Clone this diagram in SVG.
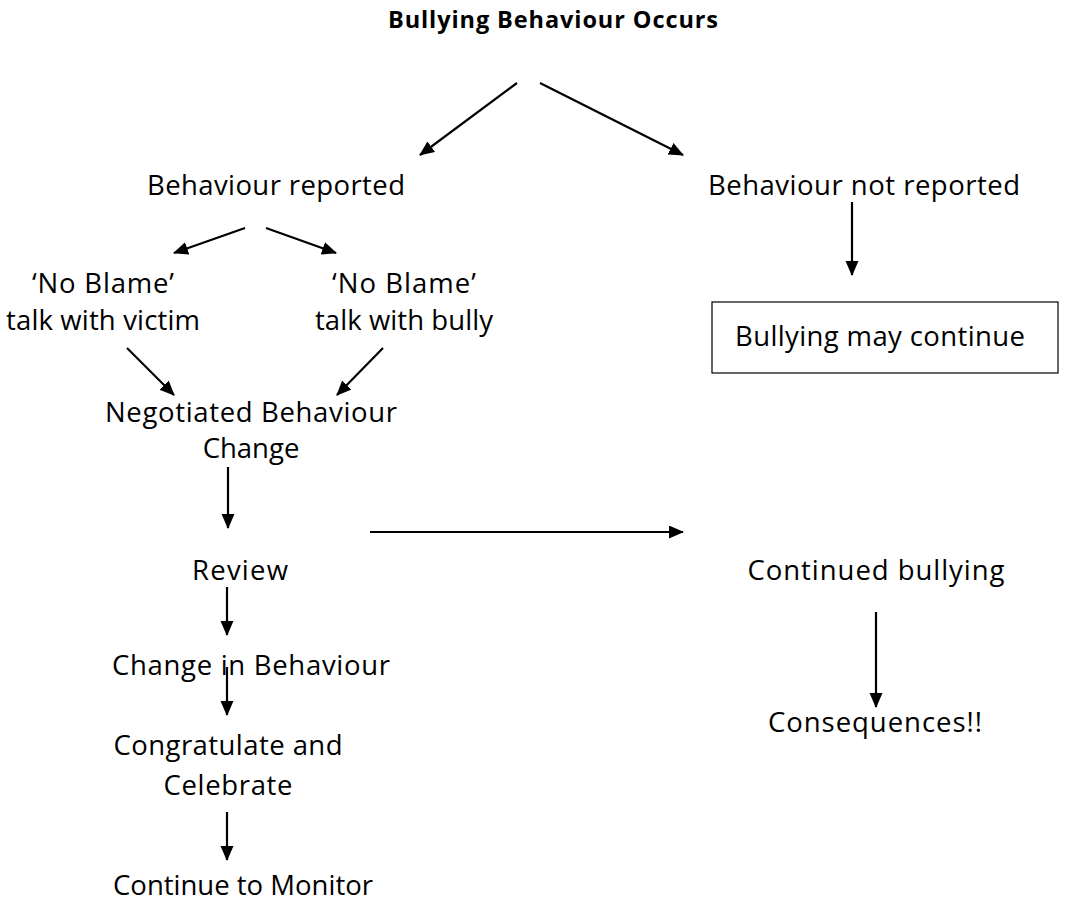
<svg xmlns="http://www.w3.org/2000/svg" width="1070" height="907" viewBox="0 0 1070 907">
<style>
text{font-family:"Open Sans","Lato","DejaVu Sans",sans-serif;fill:#000;text-anchor:middle;font-size:27.5px}
.title{font-weight:bold;font-size:23.5px}
.c line{stroke:#000;stroke-width:2.2;marker-end:url(#ah)}
.box{fill:#fff;stroke:#000;stroke-width:1.2}
</style>
<defs>
<marker id="ah" markerUnits="userSpaceOnUse" markerWidth="16" markerHeight="14" refX="14" refY="6.5" orient="auto">
<path d="M0,0 L15,6.5 L0,13 Z" fill="#000"/>
</marker>
</defs>
<rect width="1070" height="907" fill="#fff"/>
<g id="title"><text class="title" x="553" y="28" textLength="330" lengthAdjust="spacing">Bullying Behaviour Occurs</text></g>
<g id="reported"><text x="276" y="195" textLength="258" lengthAdjust="spacing">Behaviour reported</text></g>
<g id="notreported"><text x="864" y="195" textLength="312" lengthAdjust="spacing">Behaviour not reported</text></g>
<g id="maycontinue"><rect class="box" x="712" y="302" width="346" height="71"/><text x="880" y="346" textLength="290" lengthAdjust="spacing">Bullying may continue</text></g>
<g id="victim"><text x="103" y="293" textLength="142" lengthAdjust="spacing">‘No Blame’</text><text x="103" y="330" textLength="194" lengthAdjust="spacing">talk with victim</text></g>
<g id="bully"><text x="404" y="293" textLength="144" lengthAdjust="spacing">‘No Blame’</text><text x="404" y="330" textLength="178" lengthAdjust="spacing">talk with bully</text></g>
<g id="negotiated"><text x="251" y="422" textLength="292" lengthAdjust="spacing">Negotiated Behaviour</text><text x="251" y="458">Change</text></g>
<g id="review"><text x="240" y="580" textLength="96" lengthAdjust="spacing">Review</text></g>
<g id="change"><text x="251" y="675" textLength="278" lengthAdjust="spacing">Change in Behaviour</text></g>
<g id="congratulate"><text x="228" y="755" textLength="229" lengthAdjust="spacing">Congratulate and</text><text x="228" y="795" textLength="129" lengthAdjust="spacing">Celebrate</text></g>
<g id="monitor"><text x="243" y="895">Continue to Monitor</text></g>
<g id="continued"><text x="876" y="580" textLength="257" lengthAdjust="spacing">Continued bullying</text></g>
<g id="consequences"><text x="875" y="732" textLength="214" lengthAdjust="spacing">Consequences!!</text></g>
<g id="connectors" class="c">
<line x1="517" y1="83" x2="420" y2="155"/>
<line x1="540" y1="83" x2="683" y2="155"/>
<line x1="245" y1="228" x2="174" y2="253"/>
<line x1="266" y1="228" x2="336" y2="253"/>
<line x1="127" y1="348" x2="174" y2="395"/>
<line x1="383" y1="348" x2="337" y2="395"/>
<line x1="228" y1="467" x2="228" y2="528"/>
<line x1="227" y1="587" x2="227" y2="635"/>
<line x1="227" y1="667" x2="227" y2="715"/>
<line x1="227" y1="812" x2="227" y2="860"/>
<line x1="370" y1="532" x2="683" y2="532"/>
<line x1="852" y1="202" x2="852" y2="275"/>
<line x1="876" y1="612" x2="876" y2="707"/>
</g>
</svg>
